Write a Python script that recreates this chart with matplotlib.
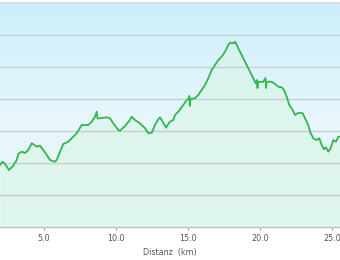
import numpy as np
import matplotlib
matplotlib.use("Agg")
import matplotlib.pyplot as plt
from matplotlib.colors import LinearSegmentedColormap

# distance (km)
dist = [1.944, 2.132, 2.292, 2.569, 2.847, 3.104, 3.215, 3.451, 3.681, 3.910,
        4.146, 4.257, 4.493, 4.722, 4.951, 5.188, 5.417, 5.764, 5.882, 6.111,
        6.340, 6.688, 6.924, 7.271, 7.618, 8.076, 8.313, 8.542, 8.660, 8.715,
        9.007, 9.354, 9.583, 9.813, 10.160, 10.278, 10.625, 10.972, 11.090, 11.319,
        11.667, 12.014, 12.243, 12.479, 12.708, 12.938, 13.056, 13.243, 13.472, 13.701,
        13.868, 13.979, 14.097, 14.326, 14.674, 14.910, 15.035, 15.090, 15.125, 15.174,
        15.486, 15.715, 15.951, 16.181, 16.410, 16.646, 16.875, 17.104, 17.340, 17.569,
        17.799, 17.917, 18.146, 18.264, 18.382, 18.611, 18.840, 19.076, 19.306, 19.535,
        19.701, 19.792, 19.826, 19.861, 20.000, 20.208, 20.382, 20.417, 20.451, 20.576,
        20.813, 21.042, 21.271, 21.507, 21.667, 21.854, 22.035, 22.271, 22.431, 22.590,
        22.778, 22.965, 23.125, 23.354, 23.472, 23.701, 23.938, 24.118, 24.285, 24.444,
        24.583, 24.743, 24.910, 25.090, 25.278, 25.438, 25.556]
# elevation (relative units, gridlines every 50)
elev = [96.9, 102.0, 98.4, 89.1, 95.3, 104.7, 114.1, 117.7, 115.6, 120.3,
        130.8, 129.2, 125.5, 127.0, 120.3, 112.5, 104.7, 102.0, 104.7, 117.7,
        129.7, 133.3, 138.6, 146.4, 159.4, 159.4, 164.5, 172.3, 180.2, 169.5,
        170.3, 171.4, 169.8, 162.0, 151.6, 150.5, 157.8, 167.2, 172.3, 167.2,
        162.0, 154.2, 146.4, 147.3, 159.4, 168.3, 171.4, 164.5, 155.2, 163.6,
        166.1, 167.2, 175.0, 180.2, 190.6, 198.4, 200.0, 204.7, 189.1, 200.0,
        201.1, 206.3, 214.1, 221.9, 232.3, 245.3, 253.1, 260.9, 266.1, 273.9,
        284.4, 288.0, 287.0, 289.5, 284.4, 273.9, 263.6, 253.1, 242.7, 232.3,
        224.5, 229.7, 217.2, 226.6, 227.0, 226.6, 232.8, 217.2, 226.6, 227.0,
        227.0, 223.4, 219.2, 218.3, 214.1, 203.6, 190.6, 182.8, 175.0, 177.7,
        178.6, 177.7, 169.8, 159.4, 148.9, 138.6, 135.9, 138.6, 128.1, 121.4,
        124.5, 117.7, 123.0, 135.9, 133.3, 141.1, 141.1]

xticks = [5.0, 10.0, 15.0, 20.0, 25.0]
xtick_labels = ["5.0", "10.0", "15.0", "20.0", "25.0"]
ygrid = [50, 100, 150, 200, 250, 300]
xlabel = "Distanz  (km)"

fig = plt.figure(figsize=(3.4, 2.6), dpi=100)
ax = fig.add_axes([0, 1 - 227 / 260, 1, 224 / 260])
xmin, xmax = 1.944, 25.556
ymin, ymax = 0, 350
ax.set_xlim(xmin, xmax)
ax.set_ylim(ymin, ymax)

# background gradient
bg = LinearSegmentedColormap.from_list("bg", ["#ebf9f8", "#e6f6fc", "#cdeefa"])
grad = np.linspace(0, 1, 256).reshape(-1, 1)
ax.imshow(grad, aspect="auto", cmap=bg, origin="lower",
          extent=[xmin, xmax, ymin, ymax], zorder=0)

ax.fill_between(dist, elev, 0, color="#d8f5e4", alpha=0.6, lw=0, zorder=1)
for g in ygrid:
    ax.axhline(g, color="#c8cfd3", lw=1.0, zorder=2)
ax.plot(dist, elev, color="#32b652", lw=1.3, zorder=3, solid_joinstyle="round")

for s in ["left", "right"]:
    ax.spines[s].set_visible(False)
ax.spines["top"].set_color("#d8d8d8")
ax.spines["top"].set_linewidth(1.2)
ax.spines["bottom"].set_color("#b9c0c4")
ax.spines["bottom"].set_linewidth(1.0)

ax.set_yticks([])
ax.set_xticks(xticks)
ax.set_xticklabels(xtick_labels, fontsize=5.8, color="#555555")
ax.tick_params(axis="x", length=2.5, width=0.8, color="#999999", pad=2.5)
ax.set_xlabel(xlabel, fontsize=5.8, color="#555555", labelpad=4)

fig.savefig("out.png", dpi=100)
